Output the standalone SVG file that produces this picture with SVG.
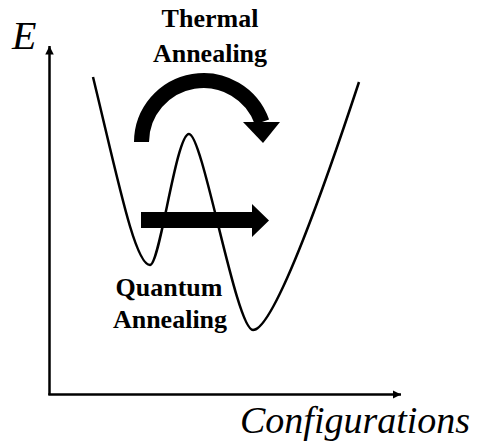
<svg xmlns="http://www.w3.org/2000/svg" width="478" height="444" viewBox="0 0 478 444">
<defs>
<style>
.lbl{font-family:"Liberation Serif","Times New Roman",serif;font-weight:bold;font-size:26px;fill:#000;text-anchor:middle}
.ax{font-family:"Liberation Serif","Times New Roman",serif;font-style:italic;fill:#000}
.axis{stroke:#000;stroke-width:2.5;fill:none}
</style>
<marker id="ah" viewBox="0 0 10 10" refX="10" refY="5" markerWidth="3.4" markerHeight="3.4" orient="auto" markerUnits="strokeWidth">
<path d="M0,0 L10,5 L0,10 Z" fill="#000"/>
</marker>
</defs>
<rect width="478" height="444" fill="#fff"/>
<g id="axes">
<line class="axis" x1="49.5" y1="395" x2="49.5" y2="46" marker-end="url(#ah)"/>
<line class="axis" x1="48.3" y1="394.5" x2="401" y2="394.5" marker-end="url(#ah)"/>
<text class="ax" font-size="40" x="12" y="49">E</text>
<text class="ax" font-size="38" x="240" y="433">Configurations</text>
</g>
<g id="energy-curve">
<path d="M93,77 C118,180 135,265 150,265 C160,265 176,134 189,134 C203,134 236,330 253,330 C275,330 330,170 359,82" fill="none" stroke="#000" stroke-width="2.5"/>
</g>
<g id="connectors">
<g id="thermal-arrow">
<path d="M141.5,142 A62,62 0 0 1 262,122" fill="none" stroke="#000" stroke-width="15"/>
<polygon points="243,122 280,122 263,143" fill="#000"/>
</g>
<g id="quantum-arrow">
<polygon points="141,212 252,212 252,204 269,220.5 252,237 252,228 141,228" fill="#000"/>
</g>
</g>
<g id="thermal-label">
<text class="lbl" x="210" y="27">Thermal</text>
<text class="lbl" x="210" y="62">Annealing</text>
</g>
<g id="quantum-label">
<text class="lbl" x="169" y="296">Quantum</text>
<text class="lbl" x="170" y="328">Annealing</text>
</g>
</svg>
